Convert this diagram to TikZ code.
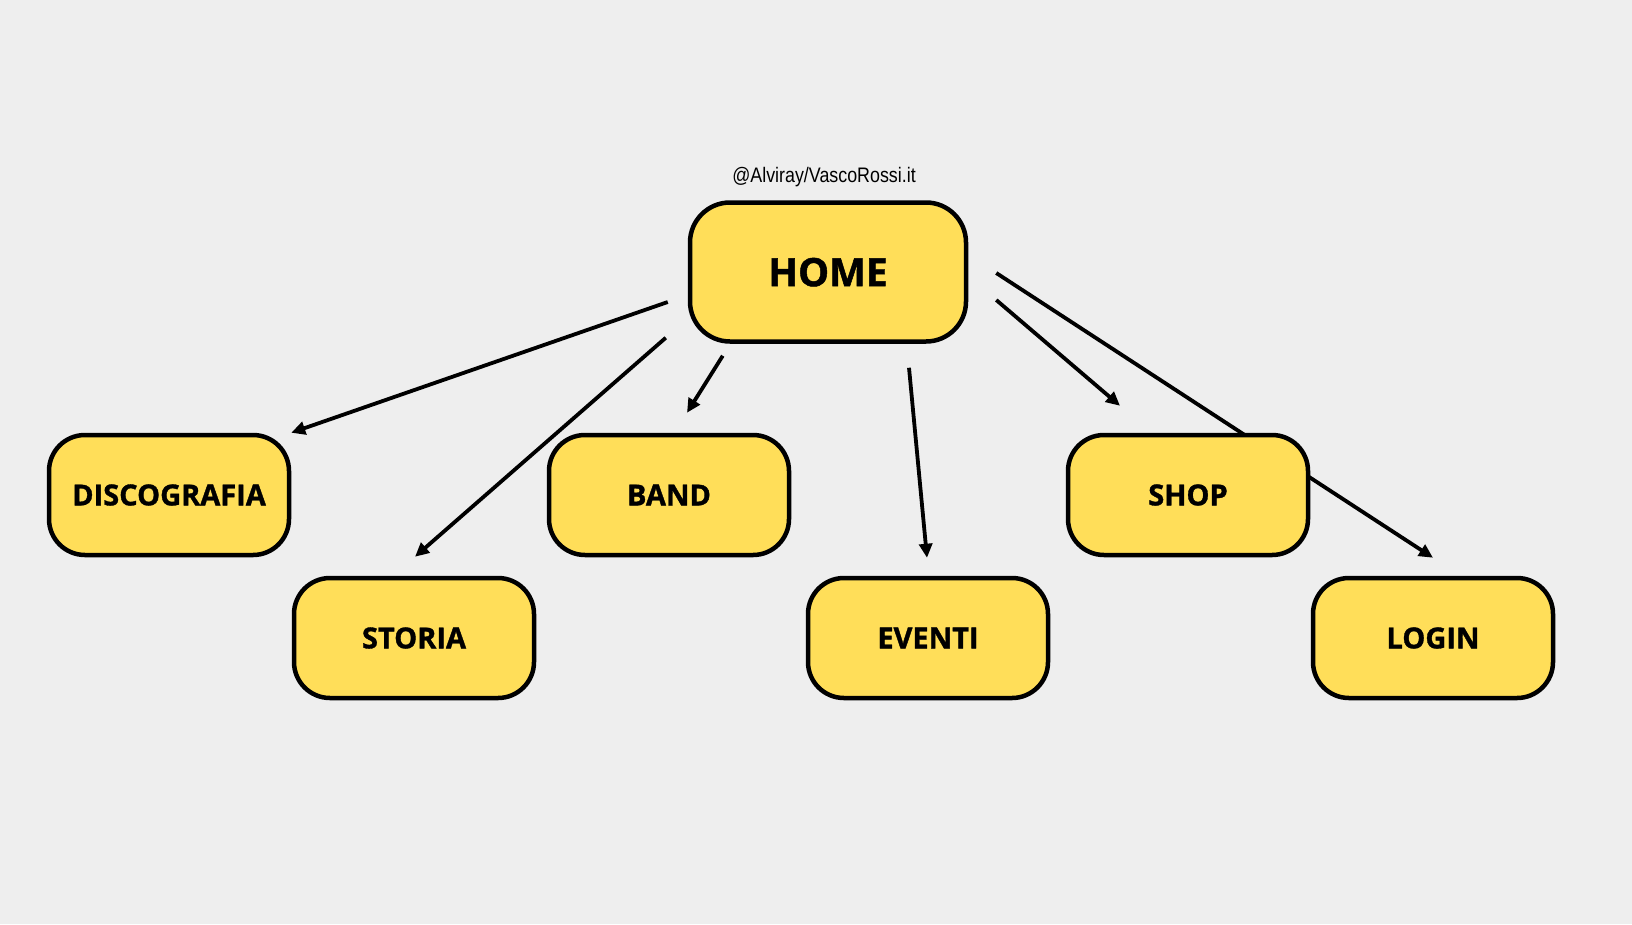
\documentclass[tikz,border=0pt]{standalone}
\usepackage{fontspec}
\setmainfont{Open Sans}[BoldFeatures={FakeBold=1.2}]
\newfontfamily\credfont[FakeStretch=0.85]{Liberation Sans}
\usetikzlibrary{arrows.meta}
\definecolor{paper}{HTML}{EEEEEE}
\definecolor{boxyellow}{HTML}{FFDE59}
\pgfdeclarelayer{paperlayer}
\pgfdeclarelayer{linelayer}
\pgfsetlayers{paperlayer,linelayer,main}
\tikzset{
  box/.style={draw, line width=4.5pt, fill=boxyellow, rounded corners=36pt,
    minimum width=240pt, minimum height=120pt, inner sep=0pt,
    font=\bfseries\fontsize{29}{29}\selectfont},
  arr/.style={-{Triangle[length=14pt,width=13pt]}, line width=3.8pt}
}
\begin{document}
\begin{tikzpicture}[x=1pt,y=-1pt]

\begin{pgfonlayer}{paperlayer}
\fill[paper] (0,0) rectangle (1632,924);
\end{pgfonlayer}
\useasboundingbox (0,0) rectangle (1632,924);

\node (cred) at (824,177) {\credfont\fontsize{21}{21}\selectfont @Alviray/VascoRossi.it};

\node[box, minimum width=276pt, minimum height=139pt, rounded corners=40pt,
  font=\bfseries\fontsize{39}{39}\selectfont, text depth=-3pt] (home) at (828,272) {HOME};

\node[box] (disco) at (169,495) {DISCOGRAFIA};
\node[box] (band) at (669,495) {BAND};
\node[box] (shop) at (1188,495) {SHOP};

\node[box] (storia) at (414,638) {STORIA};
\node[box] (eventi) at (928,638) {EVENTI};
\node[box] (login) at (1433,638) {LOGIN};

\begin{pgfonlayer}{linelayer}
\path[arr] ([shift={(-20,30)}]home.west) edge (disco.north east)
  ([shift={(-22,-6)}]home.south west) edge ([shift={(1,-19)}]storia.north)
  ([shift={(35,12)}]home.south west) edge ([shift={(18,-20)}]band.north)
  ([shift={(81,24)}]home.south) edge ([shift={(-1,-18)}]eventi.north)
  ([shift={(28,28)}]home.east) edge ([shift={(-68,-27)}]shop.north)
  ([shift={(28,1)}]home.east) edge ([shift={(0,-18)}]login.north);
\end{pgfonlayer}

\end{tikzpicture}
\end{document}
